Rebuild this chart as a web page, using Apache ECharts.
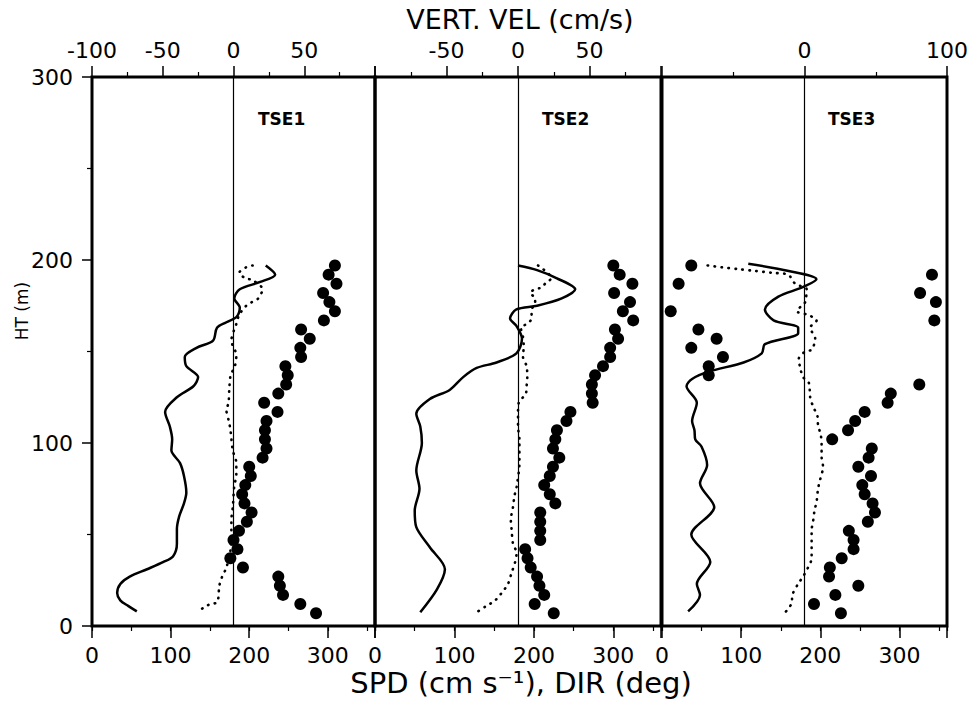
<!DOCTYPE html>
<html><head><meta charset="utf-8">
<script src="https://cdn.jsdelivr.net/npm/echarts@6/dist/echarts.min.js"></script>
<style>html,body{margin:0;padding:0;background:#fff}#c{width:972px;height:702px}</style>
</head><body><div id="c"></div>
<script>
// Heights (m) of the direction dots, shared by all panels
const dirHt = [197,192,187,182,177,172,167,162,157,152,147,142,137,132,127,122,117,112,107,102,97,92,87,82,77,72,67,62,57,52,47,42,37,32,27,22,17,12,7];

// TSE1
const t1SpdHt = [197,192,188,184,179,174,169,166,163,156,152,147,142,136,131,125,117,109,102,96,89,82,73,67,60,53,45,38,35,31,27,23,18,14,11,8];
const t1Spd   = [221,233,214,188,181,188,184,171,159,154,133,118,120,135,129,108,93,99,102,101,112,117,120,117,111,108,108,103,91,70,48,36,32,36,46,57];
const t1VvHt  = [197,196,193,190,189,184,179,177,175,170,165,162,156,148,142,137,129,122,118,111,106,96,89,83,76,65,58,51,42,32,27,22,13,12,10,8];
const t1Vv    = [13.5,9,4,8.5,13.5,20.5,17.5,13,9,4,2,0.5,-1.5,2,1,-2,-3,-3.5,-5,-3,-2,-0.5,2,2,0.5,-0.5,-1.5,-1.5,-2,-5,-8,-10,-11.5,-16.5,-21,-25.5];
const t1Dir   = [309,301,311,294,302,309,295,266,277,265,266,246,249,247,237,219,236,222,220,220,222,217,200,202,195,191,194,203,197,187,180,185,176,192,237,239,243,265,285];

// TSE2
const t2SpdHt = [197,194.5,190,184,179,175,173,168,164,157,149,144,141,136,129,124,116,109,100,85,75,63,54,43,31,20,7.5];
const t2Spd   = [180,204,229,252,235,204,178,170,178,185,178,153,128,111,94,69,52,57,59,52,56,50,52,69,88,78,57];
const t2VvHt  = [197,190,188,185,184,182,179,176,173,168,165,163,158,153,147,142,136,131,127,122,116,109,102,89,76,71,65,58,53,45,40,35,29,23,18,14,10.5,7.5];
const t2Vv    = [14,23.5,20,16.5,12,8.5,12,12,9.5,9.5,6,2,3.5,4,3.5,6,6.5,6,5.5,0.5,0,0,1,1,-1,-2.5,-3.5,-5,-4.5,-3.5,-1,-2,-4.5,-7,-11.5,-16,-23,-29];
const t2Dir   = [300,308,324,301,321,312,325,302,306,296,296,287,277,273,273,274,246,241,229,227,224,232,224,220,213,220,227,208,208,208,208,189,192,196,204,207,213,201,225];

// TSE3
const t3SpdHt = [198,194,189.5,185,180,173,167,163,160,154,149,144,139,135,131,122,112,107,102,98,88,78,65,50,35,23,17,8];
const t3Spd   = [109,160,195,177,147,130,141,172,172,130,126,103,59,38,31,44,38,41,42,50,57,48,66,37,61,44,48,33];
const t3VvHt  = [197,196,195,194,193,192,187,184,177,175,172,170,167,163,157,151,150,146,141,136,133,125,120,115,110,104,99,92.5,87,80,75,68,63,57,52.5,44,37,32,27,23,17,12.5,7.5];
const t3Vv    = [-68,-58,-46.5,-34.5,-23,-11.5,-6.5,1.5,0.5,-2,-5.5,2.5,8.5,4,7.5,5,0.5,-4,-3,-1,3,4,6,9,9.5,11.5,12,12,13,11,9.5,8.5,7,6,5,5,5,2.5,-1,-4.5,-8.5,-9,-13.5];
const t3Dir   = [37,341,21,326,346,11,344,46,69,37,77,59,59,325,289,285,256,244,235,215,265,261,248,264,253,256,266,269,260,236,242,242,227,212,211,248,219,192,226];

// Tick labels
const bottomTicks = [0,100,200,300];
const topTicksShown = [[-100,-50,0,50],[-50,0,50],[0,100]];
const yTicks = [0,100,200,300];
const panelNames = ['TSE1','TSE2','TSE3'];

const panels = [
  {spdHt:t1SpdHt, spd:t1Spd, vvHt:t1VvHt, vv:t1Vv, dir:t1Dir},
  {spdHt:t2SpdHt, spd:t2Spd, vvHt:t2VvHt, vv:t2Vv, dir:t2Dir},
  {spdHt:t3SpdHt, spd:t3Spd, vvHt:t3VvHt, vv:t3Vv, dir:t3Dir}
];

const FONT = 'DejaVu Sans';
const gridLefts = [92,375,662], gridWidths = [283,286,285];
const GT = 77, GH = 549;

const grids = [], xAxes = [], yAxes = [], series = [];
panels.forEach((p,i)=>{
  grids.push({left:gridLefts[i], top:GT, width:gridWidths[i], height:GH, show:true,
    borderColor:'#000', borderWidth:3, backgroundColor:'transparent', outerBoundsMode:'none'});
  // bottom main
  xAxes.push({gridIndex:i, type:'value', position:'bottom', min:0, max:360, interval:100,
    axisLine:{show:false}, splitLine:{show:false},
    axisTick:{show:true, length:12, lineStyle:{color:'#000', width:1.5}},
    axisLabel:{margin:18, fontSize:22, fontFamily:FONT, color:'#000',
      formatter:v=> bottomTicks.indexOf(v)>=0 ? String(v) : ''}});
  // bottom minor ticks
  xAxes.push({gridIndex:i, type:'value', position:'bottom', min:0, max:360, interval:50,
    axisLine:{show:false}, splitLine:{show:false}, axisLabel:{show:false},
    axisTick:{show:true, length:5, lineStyle:{color:'#000', width:1.2}}});
  // top vertical velocity
  xAxes.push({gridIndex:i, type:'value', position:'top', min:-100, max:100, interval: i===2?100:50,
    axisLine:{show:false}, splitLine:{show:false},
    axisTick:{show:true, length:11, lineStyle:{color:'#000', width:1.5}},
    minorTick:{show:true, splitNumber:2, length:5, lineStyle:{color:'#000', width:1.2}},
    axisLabel:{margin:16, fontSize:22, fontFamily:FONT, color:'#000',
      formatter:v=> topTicksShown[i].indexOf(v)>=0 ? String(v) : ''}});
  yAxes.push({gridIndex:i, type:'value', min:0, max:300, interval:100, show: i===0,
    axisLine:{show:false}, splitLine:{show:false},
    axisTick:{show:true, length:10, lineStyle:{color:'#000', width:1.5}},
    minorTick:{show:true, splitNumber:2, length:5, lineStyle:{color:'#000', width:1.2}},
    axisLabel:{margin:19, fontSize:22, fontFamily:FONT, color:'#000',
      formatter:v=> yTicks.indexOf(v)>=0 ? String(v) : ''}});

  series.push({type:'line', xAxisIndex:3*i, yAxisIndex:i, symbol:'none', smooth:0.3,
    data:p.spd.map((v,k)=>[v,p.spdHt[k]]),
    lineStyle:{color:'#000', width:2.5}, z:3});
  series.push({type:'line', xAxisIndex:3*i+2, yAxisIndex:i, symbol:'none', smooth:0.3,
    data:p.vv.map((v,k)=>[v,p.vvHt[k]]),
    lineStyle:{color:'#000', width:2.6, type:[0.5,6.5], cap:'round'}, z:3,
    markLine:{silent:true, symbol:['none','none'], label:{show:false}, animation:false,
      lineStyle:{color:'#000', width:1.2, type:'solid'}, data:[{xAxis:0}]}});
  series.push({type:'scatter', xAxisIndex:3*i, yAxisIndex:i, symbol:'circle', symbolSize:12,
    data:p.dir.map((v,k)=>[v,dirHt[k]]), itemStyle:{color:'#000', opacity:1}, z:4});
});

const graphics = [
  {type:'text', x:520, y:19, style:{text:'VERT. VEL (cm/s)', font:'27px "DejaVu Sans"', fill:'#000', align:'center', verticalAlign:'middle'}},
  {type:'text', x:521, y:683, style:{text:'SPD (cm s\u207B\u00B9), DIR (deg)', font:'29px "DejaVu Sans"', fill:'#000', align:'center', verticalAlign:'middle'}},
  {type:'text', x:22, y:311, rotation:Math.PI/2, style:{text:'HT (m)', font:'17px "DejaVu Sans"', fill:'#000', align:'center', verticalAlign:'middle'}}
];
const labelX = [258,542,828];
panelNames.forEach((n,i)=>graphics.push({type:'text', x:labelX[i], y:119,
  style:{text:n, font:'bold 17px "DejaVu Sans"', fill:'#000', align:'left', verticalAlign:'middle'}}));

const chart = echarts.init(document.getElementById('c'), null, {renderer:'svg'});
chart.setOption({
  animation:false,
  backgroundColor:'#fff',
  grid:grids, xAxis:xAxes, yAxis:yAxes, series:series, graphic:graphics
});
</script></body></html>
